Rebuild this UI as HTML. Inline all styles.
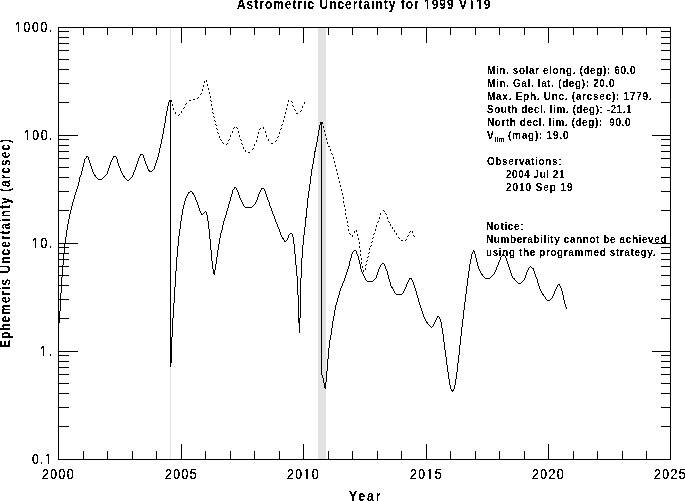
<!DOCTYPE html>
<html><head><meta charset="utf-8"><style>
html,body{margin:0;padding:0;background:#fff;overflow:hidden;}
svg{display:block;}
text{font-family:"Liberation Sans", sans-serif;fill:#000;}
</style></head><body>
<svg xmlns="http://www.w3.org/2000/svg" width="685" height="501" viewBox="0 0 685 501">
<rect x="0" y="0" width="685" height="501" fill="#fff"/>
<g shape-rendering="crispEdges">
<rect x="170" y="28" width="1" height="431" fill="#e2e2e2"/>
<rect x="318" y="28" width="8" height="431" fill="#e2e2e2"/>
<rect x="58" y="27" width="613" height="1" fill="#000"/>
<rect x="58" y="459" width="613" height="1" fill="#000"/>
<rect x="58" y="27" width="1" height="433" fill="#000"/>
<rect x="670" y="27" width="1" height="433" fill="#000"/>
<rect x="83" y="27" width="1" height="8" fill="#000"/>
<rect x="83" y="451" width="1" height="9" fill="#000"/>
<rect x="107" y="27" width="1" height="8" fill="#000"/>
<rect x="107" y="451" width="1" height="9" fill="#000"/>
<rect x="132" y="27" width="1" height="8" fill="#000"/>
<rect x="132" y="451" width="1" height="9" fill="#000"/>
<rect x="156" y="27" width="1" height="8" fill="#000"/>
<rect x="156" y="451" width="1" height="9" fill="#000"/>
<rect x="181" y="27" width="1" height="16" fill="#000"/>
<rect x="181" y="444" width="1" height="16" fill="#000"/>
<rect x="205" y="27" width="1" height="8" fill="#000"/>
<rect x="205" y="451" width="1" height="9" fill="#000"/>
<rect x="230" y="27" width="1" height="8" fill="#000"/>
<rect x="230" y="451" width="1" height="9" fill="#000"/>
<rect x="254" y="27" width="1" height="8" fill="#000"/>
<rect x="254" y="451" width="1" height="9" fill="#000"/>
<rect x="279" y="27" width="1" height="8" fill="#000"/>
<rect x="279" y="451" width="1" height="9" fill="#000"/>
<rect x="303" y="27" width="1" height="16" fill="#000"/>
<rect x="303" y="444" width="1" height="16" fill="#000"/>
<rect x="328" y="27" width="1" height="8" fill="#000"/>
<rect x="328" y="451" width="1" height="9" fill="#000"/>
<rect x="352" y="27" width="1" height="8" fill="#000"/>
<rect x="352" y="451" width="1" height="9" fill="#000"/>
<rect x="377" y="27" width="1" height="8" fill="#000"/>
<rect x="377" y="451" width="1" height="9" fill="#000"/>
<rect x="401" y="27" width="1" height="8" fill="#000"/>
<rect x="401" y="451" width="1" height="9" fill="#000"/>
<rect x="426" y="27" width="1" height="16" fill="#000"/>
<rect x="426" y="444" width="1" height="16" fill="#000"/>
<rect x="450" y="27" width="1" height="8" fill="#000"/>
<rect x="450" y="451" width="1" height="9" fill="#000"/>
<rect x="475" y="27" width="1" height="8" fill="#000"/>
<rect x="475" y="451" width="1" height="9" fill="#000"/>
<rect x="499" y="27" width="1" height="8" fill="#000"/>
<rect x="499" y="451" width="1" height="9" fill="#000"/>
<rect x="524" y="27" width="1" height="8" fill="#000"/>
<rect x="524" y="451" width="1" height="9" fill="#000"/>
<rect x="548" y="27" width="1" height="16" fill="#000"/>
<rect x="548" y="444" width="1" height="16" fill="#000"/>
<rect x="573" y="27" width="1" height="8" fill="#000"/>
<rect x="573" y="451" width="1" height="9" fill="#000"/>
<rect x="597" y="27" width="1" height="8" fill="#000"/>
<rect x="597" y="451" width="1" height="9" fill="#000"/>
<rect x="622" y="27" width="1" height="8" fill="#000"/>
<rect x="622" y="451" width="1" height="9" fill="#000"/>
<rect x="646" y="27" width="1" height="8" fill="#000"/>
<rect x="646" y="451" width="1" height="9" fill="#000"/>
<rect x="58" y="426" width="11" height="1" fill="#000"/>
<rect x="661" y="426" width="10" height="1" fill="#000"/>
<rect x="58" y="407" width="11" height="1" fill="#000"/>
<rect x="661" y="407" width="10" height="1" fill="#000"/>
<rect x="58" y="393" width="11" height="1" fill="#000"/>
<rect x="661" y="393" width="10" height="1" fill="#000"/>
<rect x="58" y="383" width="11" height="1" fill="#000"/>
<rect x="661" y="383" width="10" height="1" fill="#000"/>
<rect x="58" y="374" width="11" height="1" fill="#000"/>
<rect x="661" y="374" width="10" height="1" fill="#000"/>
<rect x="58" y="367" width="11" height="1" fill="#000"/>
<rect x="661" y="367" width="10" height="1" fill="#000"/>
<rect x="58" y="361" width="11" height="1" fill="#000"/>
<rect x="661" y="361" width="10" height="1" fill="#000"/>
<rect x="58" y="355" width="11" height="1" fill="#000"/>
<rect x="661" y="355" width="10" height="1" fill="#000"/>
<rect x="58" y="351" width="20" height="1" fill="#000"/>
<rect x="652" y="351" width="19" height="1" fill="#000"/>
<rect x="58" y="318" width="11" height="1" fill="#000"/>
<rect x="661" y="318" width="10" height="1" fill="#000"/>
<rect x="58" y="299" width="11" height="1" fill="#000"/>
<rect x="661" y="299" width="10" height="1" fill="#000"/>
<rect x="58" y="285" width="11" height="1" fill="#000"/>
<rect x="661" y="285" width="10" height="1" fill="#000"/>
<rect x="58" y="275" width="11" height="1" fill="#000"/>
<rect x="661" y="275" width="10" height="1" fill="#000"/>
<rect x="58" y="266" width="11" height="1" fill="#000"/>
<rect x="661" y="266" width="10" height="1" fill="#000"/>
<rect x="58" y="259" width="11" height="1" fill="#000"/>
<rect x="661" y="259" width="10" height="1" fill="#000"/>
<rect x="58" y="253" width="11" height="1" fill="#000"/>
<rect x="661" y="253" width="10" height="1" fill="#000"/>
<rect x="58" y="247" width="11" height="1" fill="#000"/>
<rect x="661" y="247" width="10" height="1" fill="#000"/>
<rect x="58" y="243" width="20" height="1" fill="#000"/>
<rect x="652" y="243" width="19" height="1" fill="#000"/>
<rect x="58" y="210" width="11" height="1" fill="#000"/>
<rect x="661" y="210" width="10" height="1" fill="#000"/>
<rect x="58" y="191" width="11" height="1" fill="#000"/>
<rect x="661" y="191" width="10" height="1" fill="#000"/>
<rect x="58" y="177" width="11" height="1" fill="#000"/>
<rect x="661" y="177" width="10" height="1" fill="#000"/>
<rect x="58" y="167" width="11" height="1" fill="#000"/>
<rect x="661" y="167" width="10" height="1" fill="#000"/>
<rect x="58" y="158" width="11" height="1" fill="#000"/>
<rect x="661" y="158" width="10" height="1" fill="#000"/>
<rect x="58" y="151" width="11" height="1" fill="#000"/>
<rect x="661" y="151" width="10" height="1" fill="#000"/>
<rect x="58" y="145" width="11" height="1" fill="#000"/>
<rect x="661" y="145" width="10" height="1" fill="#000"/>
<rect x="58" y="139" width="11" height="1" fill="#000"/>
<rect x="661" y="139" width="10" height="1" fill="#000"/>
<rect x="58" y="135" width="20" height="1" fill="#000"/>
<rect x="652" y="135" width="19" height="1" fill="#000"/>
<rect x="58" y="102" width="11" height="1" fill="#000"/>
<rect x="661" y="102" width="10" height="1" fill="#000"/>
<rect x="58" y="83" width="11" height="1" fill="#000"/>
<rect x="661" y="83" width="10" height="1" fill="#000"/>
<rect x="58" y="69" width="11" height="1" fill="#000"/>
<rect x="661" y="69" width="10" height="1" fill="#000"/>
<rect x="58" y="59" width="11" height="1" fill="#000"/>
<rect x="661" y="59" width="10" height="1" fill="#000"/>
<rect x="58" y="50" width="11" height="1" fill="#000"/>
<rect x="661" y="50" width="10" height="1" fill="#000"/>
<rect x="58" y="43" width="11" height="1" fill="#000"/>
<rect x="661" y="43" width="10" height="1" fill="#000"/>
<rect x="58" y="37" width="11" height="1" fill="#000"/>
<rect x="661" y="37" width="10" height="1" fill="#000"/>
<rect x="58" y="31" width="11" height="1" fill="#000"/>
<rect x="661" y="31" width="10" height="1" fill="#000"/>
<rect x="169" y="100" width="3" height="2" fill="#000"/>
<rect x="320" y="122" width="3" height="2" fill="#000"/>
</g>
<g shape-rendering="crispEdges">
<path d="M206 80h1v1h-1zM204 81h1v1h-1zM206 81h1v1h-1zM204 82h1v1h-1zM207 84h1v1h-1zM203 85h1v1h-1zM207 85h1v1h-1zM203 86h1v1h-1zM208 88h1v1h-1zM202 89h1v1h-1zM208 89h1v1h-1zM202 90h1v1h-1zM209 92h1v1h-1zM201 93h1v1h-1zM209 93h1v1h-1zM200 94h1v1h-1zM210 96h1v1h-1zM198 97h1v1h-1zM210 97h1v1h-1zM197 98h1v1h-1zM193 99h2v1h-2zM189 100h2v1h-2zM210 100h1v1h-1zM288 100h1v1h-1zM169 101h3v1h-3zM211 101h1v1h-1zM288 101h1v1h-1zM291 101h1v1h-1zM168 102h1v1h-1zM170 102h1v1h-1zM292 102h1v1h-1zM304 102h1v1h-1zM168 103h1v1h-1zM170 103h1v1h-1zM186 103h1v1h-1zM304 103h1v1h-1zM168 104h1v1h-1zM170 104h1v1h-1zM172 104h1v1h-1zM185 104h1v1h-1zM211 104h1v1h-1zM287 104h1v1h-1zM168 105h1v1h-1zM170 105h1v1h-1zM172 105h1v1h-1zM211 105h1v1h-1zM287 105h1v1h-1zM292 105h1v1h-1zM167 106h1v1h-1zM170 106h1v1h-1zM293 106h1v1h-1zM302 106h1v1h-1zM167 107h1v1h-1zM170 107h1v1h-1zM184 107h1v1h-1zM302 107h1v1h-1zM167 108h1v1h-1zM170 108h1v1h-1zM173 108h1v1h-1zM183 108h1v1h-1zM212 108h1v1h-1zM286 108h1v1h-1zM167 109h1v1h-1zM170 109h1v1h-1zM173 109h1v1h-1zM212 109h1v1h-1zM286 109h1v1h-1zM294 109h1v1h-1zM167 110h1v1h-1zM170 110h1v1h-1zM295 110h1v1h-1zM301 110h1v1h-1zM166 111h1v1h-1zM170 111h1v1h-1zM181 111h1v1h-1zM300 111h1v1h-1zM166 112h1v1h-1zM170 112h1v1h-1zM175 112h1v1h-1zM181 112h1v1h-1zM212 112h1v1h-1zM285 112h1v1h-1zM166 113h1v1h-1zM170 113h1v1h-1zM175 113h1v1h-1zM213 113h1v1h-1zM285 113h1v1h-1zM296 113h2v1h-2zM166 114h1v1h-1zM170 114h1v1h-1zM179 114h1v1h-1zM166 115h1v1h-1zM170 115h1v1h-1zM178 115h1v1h-1zM165 116h1v1h-1zM170 116h1v1h-1zM213 116h1v1h-1zM284 116h1v1h-1zM165 117h1v1h-1zM170 117h1v1h-1zM214 117h1v1h-1zM284 117h1v1h-1zM165 118h1v1h-1zM170 118h1v1h-1zM165 119h1v1h-1zM170 119h1v1h-1zM165 120h1v1h-1zM170 120h1v1h-1zM214 120h1v1h-1zM283 120h1v1h-1zM165 121h1v1h-1zM170 121h1v1h-1zM215 121h1v1h-1zM283 121h1v1h-1zM165 122h1v1h-1zM170 122h1v1h-1zM164 123h1v1h-1zM170 123h1v1h-1zM321 123h2v1h-2zM164 124h1v1h-1zM170 124h1v1h-1zM215 124h1v1h-1zM282 124h1v1h-1zM320 124h2v1h-2zM164 125h1v1h-1zM170 125h1v1h-1zM216 125h1v1h-1zM281 125h1v1h-1zM319 125h1v1h-1zM321 125h1v1h-1zM164 126h1v1h-1zM170 126h1v1h-1zM319 126h1v1h-1zM321 126h1v1h-1zM323 126h1v1h-1zM164 127h1v1h-1zM170 127h1v1h-1zM234 127h1v1h-1zM236 127h1v1h-1zM263 127h1v1h-1zM319 127h1v1h-1zM321 127h1v1h-1zM323 127h1v1h-1zM163 128h1v1h-1zM170 128h1v1h-1zM216 128h1v1h-1zM233 128h1v1h-1zM237 128h1v1h-1zM260 128h1v1h-1zM263 128h1v1h-1zM281 128h1v1h-1zM319 128h1v1h-1zM321 128h1v1h-1zM163 129h1v1h-1zM170 129h1v1h-1zM217 129h1v1h-1zM259 129h1v1h-1zM280 129h1v1h-1zM319 129h1v1h-1zM321 129h1v1h-1zM163 130h1v1h-1zM170 130h1v1h-1zM318 130h1v1h-1zM321 130h1v1h-1zM324 130h1v1h-1zM163 131h1v1h-1zM170 131h1v1h-1zM232 131h1v1h-1zM238 131h1v1h-1zM265 131h1v1h-1zM318 131h1v1h-1zM321 131h1v1h-1zM324 131h1v1h-1zM163 132h1v1h-1zM170 132h1v1h-1zM217 132h1v1h-1zM232 132h1v1h-1zM238 132h1v1h-1zM258 132h1v1h-1zM265 132h1v1h-1zM279 132h1v1h-1zM318 132h1v1h-1zM321 132h1v1h-1zM163 133h1v1h-1zM170 133h1v1h-1zM218 133h1v1h-1zM258 133h1v1h-1zM279 133h1v1h-1zM318 133h1v1h-1zM321 133h1v1h-1zM162 134h1v1h-1zM170 134h1v1h-1zM318 134h1v1h-1zM321 134h1v1h-1zM325 134h1v1h-1zM162 135h1v1h-1zM170 135h1v1h-1zM230 135h1v1h-1zM239 135h1v1h-1zM266 135h1v1h-1zM318 135h1v1h-1zM321 135h1v1h-1zM325 135h1v1h-1zM162 136h1v1h-1zM170 136h1v1h-1zM219 136h1v1h-1zM230 136h1v1h-1zM239 136h1v1h-1zM257 136h1v1h-1zM266 136h1v1h-1zM278 136h1v1h-1zM317 136h1v1h-1zM321 136h1v1h-1zM162 137h1v1h-1zM170 137h1v1h-1zM219 137h1v1h-1zM257 137h1v1h-1zM277 137h1v1h-1zM317 137h1v1h-1zM321 137h1v1h-1zM162 138h1v1h-1zM170 138h1v1h-1zM317 138h1v1h-1zM321 138h1v1h-1zM326 138h1v1h-1zM161 139h1v1h-1zM170 139h1v1h-1zM220 139h1v1h-1zM229 139h1v1h-1zM240 139h1v1h-1zM268 139h1v1h-1zM317 139h1v1h-1zM321 139h1v1h-1zM326 139h1v1h-1zM161 140h1v1h-1zM170 140h1v1h-1zM221 140h1v1h-1zM228 140h1v1h-1zM241 140h1v1h-1zM256 140h1v1h-1zM268 140h1v1h-1zM276 140h1v1h-1zM317 140h1v1h-1zM321 140h1v1h-1zM161 141h1v1h-1zM170 141h1v1h-1zM256 141h1v1h-1zM275 141h1v1h-1zM317 141h1v1h-1zM321 141h1v1h-1zM161 142h1v1h-1zM170 142h1v1h-1zM222 142h1v1h-1zM316 142h1v1h-1zM321 142h1v1h-1zM327 142h1v1h-1zM161 143h1v1h-1zM170 143h1v1h-1zM223 143h1v1h-1zM227 143h1v1h-1zM241 143h1v1h-1zM271 143h2v1h-2zM316 143h1v1h-1zM321 143h1v1h-1zM327 143h1v1h-1zM160 144h1v1h-1zM170 144h1v1h-1zM226 144h1v1h-1zM242 144h1v1h-1zM254 144h1v1h-1zM316 144h1v1h-1zM321 144h1v1h-1zM160 145h1v1h-1zM170 145h1v1h-1zM254 145h1v1h-1zM316 145h1v1h-1zM321 145h1v1h-1zM160 146h1v1h-1zM170 146h1v1h-1zM316 146h1v1h-1zM321 146h1v1h-1zM328 146h2v1h-2zM160 147h1v1h-1zM170 147h1v1h-1zM243 147h1v1h-1zM315 147h1v1h-1zM321 147h1v1h-1zM159 148h1v1h-1zM170 148h1v1h-1zM243 148h1v1h-1zM253 148h1v1h-1zM315 148h1v1h-1zM321 148h1v1h-1zM159 149h1v1h-1zM170 149h1v1h-1zM252 149h1v1h-1zM315 149h1v1h-1zM321 149h1v1h-1zM330 149h1v1h-1zM159 150h1v1h-1zM170 150h1v1h-1zM245 150h1v1h-1zM315 150h1v1h-1zM321 150h1v1h-1zM330 150h1v1h-1zM159 151h1v1h-1zM170 151h1v1h-1zM245 151h1v1h-1zM314 151h2v1h-2zM321 151h1v1h-1zM159 152h1v1h-1zM170 152h1v1h-1zM248 152h2v1h-2zM314 152h1v1h-1zM321 152h1v1h-1zM158 153h1v1h-1zM170 153h1v1h-1zM314 153h1v1h-1zM321 153h1v1h-1zM331 153h1v1h-1zM140 154h3v1h-3zM158 154h1v1h-1zM170 154h1v1h-1zM314 154h1v1h-1zM321 154h1v1h-1zM332 154h1v1h-1zM140 155h1v1h-1zM143 155h1v1h-1zM158 155h1v1h-1zM170 155h1v1h-1zM314 155h1v1h-1zM321 155h1v1h-1zM86 156h2v1h-2zM113 156h3v1h-3zM139 156h1v1h-1zM143 156h1v1h-1zM158 156h1v1h-1zM170 156h1v1h-1zM314 156h1v1h-1zM321 156h1v1h-1zM86 157h1v1h-1zM88 157h1v1h-1zM113 157h1v1h-1zM116 157h1v1h-1zM139 157h1v1h-1zM143 157h1v1h-1zM157 157h1v1h-1zM170 157h1v1h-1zM314 157h1v1h-1zM321 157h1v1h-1zM333 157h1v1h-1zM85 158h1v1h-1zM88 158h1v1h-1zM112 158h1v1h-1zM116 158h1v1h-1zM138 158h1v1h-1zM144 158h1v1h-1zM157 158h1v1h-1zM170 158h1v1h-1zM313 158h1v1h-1zM321 158h1v1h-1zM333 158h1v1h-1zM84 159h1v1h-1zM88 159h1v1h-1zM112 159h1v1h-1zM117 159h1v1h-1zM138 159h1v1h-1zM144 159h1v1h-1zM157 159h1v1h-1zM170 159h1v1h-1zM313 159h1v1h-1zM321 159h1v1h-1zM84 160h1v1h-1zM89 160h1v1h-1zM111 160h1v1h-1zM117 160h1v1h-1zM138 160h1v1h-1zM144 160h1v1h-1zM156 160h1v1h-1zM170 160h1v1h-1zM313 160h1v1h-1zM321 160h1v1h-1zM84 161h1v1h-1zM89 161h1v1h-1zM111 161h1v1h-1zM117 161h1v1h-1zM137 161h1v1h-1zM145 161h1v1h-1zM156 161h1v1h-1zM170 161h1v1h-1zM313 161h1v1h-1zM321 161h1v1h-1zM334 161h1v1h-1zM84 162h1v1h-1zM89 162h1v1h-1zM110 162h1v1h-1zM117 162h1v1h-1zM137 162h1v1h-1zM145 162h1v1h-1zM156 162h1v1h-1zM170 162h1v1h-1zM313 162h1v1h-1zM321 162h1v1h-1zM334 162h1v1h-1zM83 163h1v1h-1zM90 163h1v1h-1zM110 163h1v1h-1zM118 163h1v1h-1zM137 163h1v1h-1zM145 163h1v1h-1zM155 163h1v1h-1zM170 163h1v1h-1zM313 163h1v1h-1zM321 163h1v1h-1zM83 164h1v1h-1zM90 164h1v1h-1zM110 164h1v1h-1zM118 164h1v1h-1zM136 164h1v1h-1zM146 164h1v1h-1zM155 164h1v1h-1zM170 164h1v1h-1zM312 164h1v1h-1zM321 164h1v1h-1zM83 165h1v1h-1zM90 165h1v1h-1zM109 165h1v1h-1zM118 165h1v1h-1zM136 165h1v1h-1zM146 165h1v1h-1zM155 165h1v1h-1zM170 165h1v1h-1zM312 165h1v1h-1zM321 165h1v1h-1zM335 165h1v1h-1zM83 166h1v1h-1zM91 166h1v1h-1zM109 166h1v1h-1zM119 166h1v1h-1zM136 166h1v1h-1zM147 166h1v1h-1zM154 166h1v1h-1zM170 166h1v1h-1zM312 166h1v1h-1zM321 166h1v1h-1zM335 166h1v1h-1zM82 167h1v1h-1zM91 167h1v1h-1zM109 167h1v1h-1zM119 167h1v1h-1zM135 167h1v1h-1zM147 167h1v1h-1zM154 167h1v1h-1zM170 167h1v1h-1zM312 167h1v1h-1zM321 167h1v1h-1zM82 168h1v1h-1zM91 168h1v1h-1zM108 168h1v1h-1zM120 168h1v1h-1zM135 168h1v1h-1zM147 168h1v1h-1zM154 168h1v1h-1zM170 168h1v1h-1zM312 168h1v1h-1zM321 168h1v1h-1zM82 169h1v1h-1zM92 169h1v1h-1zM108 169h1v1h-1zM120 169h1v1h-1zM135 169h1v1h-1zM148 169h1v1h-1zM153 169h1v1h-1zM170 169h1v1h-1zM311 169h1v1h-1zM321 169h1v1h-1zM336 169h1v1h-1zM82 170h1v1h-1zM92 170h1v1h-1zM108 170h1v1h-1zM120 170h1v1h-1zM134 170h1v1h-1zM148 170h2v1h-2zM152 170h1v1h-1zM170 170h1v1h-1zM311 170h1v1h-1zM321 170h1v1h-1zM336 170h1v1h-1zM81 171h1v1h-1zM92 171h1v1h-1zM107 171h1v1h-1zM121 171h1v1h-1zM134 171h1v1h-1zM149 171h3v1h-3zM170 171h1v1h-1zM311 171h1v1h-1zM321 171h1v1h-1zM81 172h1v1h-1zM93 172h1v1h-1zM107 172h1v1h-1zM121 172h1v1h-1zM133 172h1v1h-1zM170 172h1v1h-1zM311 172h1v1h-1zM321 172h1v1h-1zM81 173h1v1h-1zM93 173h1v1h-1zM107 173h1v1h-1zM122 173h1v1h-1zM133 173h1v1h-1zM170 173h1v1h-1zM311 173h1v1h-1zM321 173h1v1h-1zM337 173h1v1h-1zM81 174h1v1h-1zM94 174h1v1h-1zM106 174h1v1h-1zM122 174h1v1h-1zM133 174h1v1h-1zM170 174h1v1h-1zM311 174h1v1h-1zM321 174h1v1h-1zM337 174h1v1h-1zM80 175h1v1h-1zM94 175h2v1h-2zM105 175h1v1h-1zM123 175h1v1h-1zM132 175h1v1h-1zM170 175h1v1h-1zM311 175h1v1h-1zM321 175h1v1h-1zM80 176h1v1h-1zM95 176h1v1h-1zM104 176h1v1h-1zM123 176h2v1h-2zM132 176h1v1h-1zM170 176h1v1h-1zM310 176h1v1h-1zM321 176h1v1h-1zM79 177h1v1h-1zM96 177h1v1h-1zM103 177h1v1h-1zM124 177h1v1h-1zM131 177h1v1h-1zM170 177h1v1h-1zM310 177h1v1h-1zM321 177h1v1h-1zM338 177h1v1h-1zM79 178h1v1h-1zM97 178h1v1h-1zM102 178h1v1h-1zM125 178h1v1h-1zM130 178h1v1h-1zM170 178h1v1h-1zM310 178h1v1h-1zM321 178h1v1h-1zM338 178h1v1h-1zM79 179h1v1h-1zM98 179h4v1h-4zM126 179h1v1h-1zM129 179h1v1h-1zM170 179h1v1h-1zM310 179h1v1h-1zM321 179h1v1h-1zM79 180h1v1h-1zM127 180h2v1h-2zM170 180h1v1h-1zM310 180h1v1h-1zM321 180h1v1h-1zM79 181h1v1h-1zM170 181h1v1h-1zM310 181h1v1h-1zM321 181h1v1h-1zM339 181h1v1h-1zM78 182h1v1h-1zM170 182h1v1h-1zM310 182h1v1h-1zM321 182h1v1h-1zM339 182h1v1h-1zM78 183h1v1h-1zM170 183h1v1h-1zM310 183h1v1h-1zM321 183h1v1h-1zM78 184h1v1h-1zM170 184h1v1h-1zM309 184h1v1h-1zM321 184h1v1h-1zM78 185h1v1h-1zM170 185h1v1h-1zM309 185h1v1h-1zM321 185h1v1h-1zM340 185h1v1h-1zM77 186h1v1h-1zM170 186h1v1h-1zM309 186h1v1h-1zM321 186h1v1h-1zM340 186h1v1h-1zM77 187h1v1h-1zM170 187h1v1h-1zM234 187h2v1h-2zM309 187h1v1h-1zM321 187h1v1h-1zM77 188h1v1h-1zM170 188h1v1h-1zM234 188h1v1h-1zM236 188h1v1h-1zM261 188h3v1h-3zM309 188h1v1h-1zM321 188h1v1h-1zM76 189h1v1h-1zM170 189h1v1h-1zM233 189h1v1h-1zM236 189h1v1h-1zM261 189h1v1h-1zM264 189h1v1h-1zM309 189h1v1h-1zM321 189h1v1h-1zM341 189h1v1h-1zM76 190h1v1h-1zM170 190h1v1h-1zM232 190h1v1h-1zM237 190h1v1h-1zM260 190h1v1h-1zM264 190h1v1h-1zM309 190h1v1h-1zM321 190h1v1h-1zM341 190h1v1h-1zM76 191h1v1h-1zM170 191h1v1h-1zM190 191h2v1h-2zM232 191h1v1h-1zM237 191h1v1h-1zM260 191h1v1h-1zM265 191h1v1h-1zM308 191h1v1h-1zM321 191h1v1h-1zM75 192h1v1h-1zM170 192h1v1h-1zM188 192h2v1h-2zM192 192h1v1h-1zM232 192h1v1h-1zM238 192h1v1h-1zM259 192h1v1h-1zM265 192h1v1h-1zM308 192h1v1h-1zM321 192h1v1h-1zM75 193h1v1h-1zM170 193h1v1h-1zM188 193h1v1h-1zM192 193h2v1h-2zM232 193h1v1h-1zM238 193h1v1h-1zM259 193h1v1h-1zM265 193h1v1h-1zM308 193h1v1h-1zM321 193h1v1h-1zM342 193h1v1h-1zM75 194h1v1h-1zM170 194h1v1h-1zM187 194h1v1h-1zM193 194h1v1h-1zM231 194h1v1h-1zM238 194h1v1h-1zM258 194h1v1h-1zM266 194h1v1h-1zM308 194h1v1h-1zM321 194h1v1h-1zM342 194h1v1h-1zM74 195h1v1h-1zM170 195h1v1h-1zM187 195h1v1h-1zM194 195h1v1h-1zM231 195h1v1h-1zM239 195h1v1h-1zM258 195h1v1h-1zM266 195h1v1h-1zM308 195h1v1h-1zM321 195h1v1h-1zM74 196h1v1h-1zM170 196h1v1h-1zM186 196h1v1h-1zM194 196h1v1h-1zM231 196h1v1h-1zM239 196h1v1h-1zM258 196h1v1h-1zM266 196h1v1h-1zM308 196h1v1h-1zM321 196h1v1h-1zM74 197h1v1h-1zM170 197h1v1h-1zM186 197h1v1h-1zM195 197h1v1h-1zM230 197h1v1h-1zM239 197h1v1h-1zM257 197h1v1h-1zM267 197h1v1h-1zM308 197h1v1h-1zM321 197h1v1h-1zM343 197h1v1h-1zM74 198h1v1h-1zM170 198h1v1h-1zM185 198h1v1h-1zM195 198h1v1h-1zM230 198h1v1h-1zM240 198h1v1h-1zM257 198h1v1h-1zM267 198h1v1h-1zM307 198h1v1h-1zM321 198h1v1h-1zM343 198h1v1h-1zM73 199h1v1h-1zM170 199h1v1h-1zM185 199h1v1h-1zM195 199h1v1h-1zM230 199h1v1h-1zM240 199h1v1h-1zM257 199h1v1h-1zM267 199h1v1h-1zM307 199h1v1h-1zM321 199h1v1h-1zM73 200h1v1h-1zM170 200h1v1h-1zM185 200h1v1h-1zM196 200h1v1h-1zM230 200h1v1h-1zM241 200h1v1h-1zM256 200h1v1h-1zM268 200h1v1h-1zM307 200h1v1h-1zM321 200h1v1h-1zM73 201h1v1h-1zM170 201h1v1h-1zM184 201h1v1h-1zM196 201h1v1h-1zM229 201h1v1h-1zM241 201h1v1h-1zM256 201h1v1h-1zM268 201h1v1h-1zM307 201h1v1h-1zM321 201h1v1h-1zM343 201h1v1h-1zM72 202h1v1h-1zM170 202h1v1h-1zM184 202h1v1h-1zM197 202h1v1h-1zM229 202h1v1h-1zM242 202h1v1h-1zM255 202h1v1h-1zM269 202h1v1h-1zM307 202h1v1h-1zM321 202h1v1h-1zM343 202h1v1h-1zM72 203h1v1h-1zM170 203h1v1h-1zM184 203h1v1h-1zM197 203h1v1h-1zM229 203h1v1h-1zM242 203h1v1h-1zM255 203h1v1h-1zM269 203h1v1h-1zM307 203h1v1h-1zM321 203h1v1h-1zM72 204h1v1h-1zM170 204h1v1h-1zM184 204h1v1h-1zM197 204h1v1h-1zM228 204h1v1h-1zM243 204h1v1h-1zM254 204h1v1h-1zM269 204h1v1h-1zM307 204h1v1h-1zM321 204h1v1h-1zM72 205h1v1h-1zM170 205h1v1h-1zM183 205h1v1h-1zM198 205h1v1h-1zM228 205h1v1h-1zM243 205h1v1h-1zM253 205h1v1h-1zM269 205h1v1h-1zM307 205h1v1h-1zM321 205h1v1h-1zM344 205h1v1h-1zM71 206h1v1h-1zM170 206h1v1h-1zM183 206h1v1h-1zM198 206h1v1h-1zM228 206h1v1h-1zM244 206h1v1h-1zM252 206h1v1h-1zM270 206h1v1h-1zM307 206h1v1h-1zM321 206h1v1h-1zM344 206h1v1h-1zM71 207h1v1h-1zM170 207h1v1h-1zM183 207h1v1h-1zM198 207h1v1h-1zM228 207h1v1h-1zM245 207h7v1h-7zM270 207h1v1h-1zM307 207h1v1h-1zM321 207h1v1h-1zM71 208h1v1h-1zM170 208h1v1h-1zM183 208h1v1h-1zM199 208h1v1h-1zM227 208h1v1h-1zM271 208h1v1h-1zM306 208h1v1h-1zM321 208h1v1h-1zM71 209h1v1h-1zM170 209h1v1h-1zM182 209h1v1h-1zM199 209h1v1h-1zM227 209h1v1h-1zM271 209h1v1h-1zM306 209h1v1h-1zM321 209h1v1h-1zM345 209h1v1h-1zM70 210h1v1h-1zM170 210h1v1h-1zM182 210h1v1h-1zM199 210h1v1h-1zM227 210h1v1h-1zM271 210h1v1h-1zM306 210h1v1h-1zM321 210h1v1h-1zM345 210h1v1h-1zM383 210h1v1h-1zM70 211h1v1h-1zM170 211h1v1h-1zM182 211h1v1h-1zM200 211h1v1h-1zM205 211h1v1h-1zM226 211h1v1h-1zM272 211h1v1h-1zM306 211h1v1h-1zM321 211h1v1h-1zM384 211h1v1h-1zM70 212h1v1h-1zM170 212h1v1h-1zM182 212h1v1h-1zM200 212h1v1h-1zM204 212h1v1h-1zM206 212h1v1h-1zM226 212h1v1h-1zM272 212h1v1h-1zM306 212h1v1h-1zM321 212h1v1h-1zM70 213h1v1h-1zM170 213h1v1h-1zM182 213h1v1h-1zM201 213h1v1h-1zM203 213h1v1h-1zM206 213h1v1h-1zM226 213h1v1h-1zM272 213h1v1h-1zM306 213h1v1h-1zM321 213h1v1h-1zM345 213h1v1h-1zM380 213h1v1h-1zM385 213h1v1h-1zM69 214h1v1h-1zM170 214h1v1h-1zM182 214h1v1h-1zM201 214h2v1h-2zM206 214h1v1h-1zM226 214h1v1h-1zM273 214h1v1h-1zM306 214h1v1h-1zM321 214h1v1h-1zM345 214h1v1h-1zM380 214h1v1h-1zM386 214h1v1h-1zM69 215h1v1h-1zM170 215h1v1h-1zM181 215h1v1h-1zM207 215h1v1h-1zM225 215h1v1h-1zM273 215h1v1h-1zM306 215h1v1h-1zM321 215h1v1h-1zM69 216h1v1h-1zM170 216h1v1h-1zM181 216h1v1h-1zM207 216h1v1h-1zM225 216h1v1h-1zM274 216h1v1h-1zM306 216h1v1h-1zM321 216h1v1h-1zM69 217h1v1h-1zM170 217h1v1h-1zM181 217h1v1h-1zM207 217h1v1h-1zM225 217h1v1h-1zM274 217h1v1h-1zM305 217h2v1h-2zM321 217h1v1h-1zM346 217h1v1h-1zM379 217h1v1h-1zM387 217h1v1h-1zM69 218h1v1h-1zM170 218h1v1h-1zM181 218h1v1h-1zM207 218h1v1h-1zM224 218h1v1h-1zM274 218h1v1h-1zM305 218h1v1h-1zM321 218h1v1h-1zM346 218h1v1h-1zM379 218h1v1h-1zM387 218h1v1h-1zM68 219h1v1h-1zM170 219h1v1h-1zM181 219h1v1h-1zM207 219h1v1h-1zM224 219h1v1h-1zM275 219h1v1h-1zM305 219h1v1h-1zM321 219h1v1h-1zM68 220h1v1h-1zM170 220h1v1h-1zM181 220h1v1h-1zM207 220h1v1h-1zM224 220h1v1h-1zM275 220h1v1h-1zM305 220h1v1h-1zM321 220h1v1h-1zM68 221h1v1h-1zM170 221h1v1h-1zM180 221h1v1h-1zM208 221h1v1h-1zM223 221h1v1h-1zM275 221h1v1h-1zM305 221h1v1h-1zM321 221h1v1h-1zM347 221h1v1h-1zM378 221h1v1h-1zM388 221h1v1h-1zM68 222h1v1h-1zM170 222h1v1h-1zM180 222h1v1h-1zM208 222h1v1h-1zM223 222h1v1h-1zM276 222h1v1h-1zM305 222h1v1h-1zM321 222h1v1h-1zM347 222h1v1h-1zM377 222h1v1h-1zM389 222h1v1h-1zM68 223h1v1h-1zM170 223h1v1h-1zM180 223h1v1h-1zM208 223h1v1h-1zM223 223h1v1h-1zM276 223h1v1h-1zM305 223h1v1h-1zM321 223h1v1h-1zM67 224h1v1h-1zM170 224h1v1h-1zM180 224h1v1h-1zM208 224h1v1h-1zM223 224h1v1h-1zM277 224h1v1h-1zM305 224h1v1h-1zM321 224h1v1h-1zM390 224h1v1h-1zM67 225h1v1h-1zM170 225h1v1h-1zM180 225h1v1h-1zM208 225h1v1h-1zM222 225h1v1h-1zM277 225h1v1h-1zM305 225h1v1h-1zM321 225h1v1h-1zM347 225h1v1h-1zM376 225h1v1h-1zM390 225h1v1h-1zM67 226h1v1h-1zM170 226h1v1h-1zM180 226h1v1h-1zM208 226h1v1h-1zM222 226h1v1h-1zM277 226h1v1h-1zM305 226h1v1h-1zM321 226h1v1h-1zM348 226h1v1h-1zM376 226h1v1h-1zM67 227h1v1h-1zM170 227h1v1h-1zM180 227h1v1h-1zM208 227h1v1h-1zM222 227h1v1h-1zM278 227h1v1h-1zM304 227h1v1h-1zM321 227h1v1h-1zM392 227h1v1h-1zM67 228h1v1h-1zM170 228h1v1h-1zM180 228h1v1h-1zM208 228h1v1h-1zM222 228h1v1h-1zM278 228h1v1h-1zM304 228h1v1h-1zM321 228h1v1h-1zM392 228h1v1h-1zM67 229h1v1h-1zM170 229h1v1h-1zM179 229h1v1h-1zM209 229h1v1h-1zM222 229h1v1h-1zM279 229h1v1h-1zM304 229h1v1h-1zM321 229h1v1h-1zM348 229h1v1h-1zM375 229h1v1h-1zM66 230h1v1h-1zM170 230h1v1h-1zM179 230h1v1h-1zM209 230h1v1h-1zM221 230h1v1h-1zM279 230h1v1h-1zM304 230h1v1h-1zM321 230h1v1h-1zM348 230h1v1h-1zM356 230h1v1h-1zM375 230h1v1h-1zM394 230h1v1h-1zM66 231h1v1h-1zM170 231h1v1h-1zM179 231h1v1h-1zM209 231h1v1h-1zM221 231h1v1h-1zM279 231h1v1h-1zM304 231h1v1h-1zM321 231h1v1h-1zM354 231h1v1h-1zM356 231h1v1h-1zM394 231h1v1h-1zM410 231h1v1h-1zM412 231h1v1h-1zM66 232h1v1h-1zM170 232h1v1h-1zM179 232h1v1h-1zM209 232h1v1h-1zM221 232h1v1h-1zM280 232h1v1h-1zM304 232h1v1h-1zM321 232h1v1h-1zM354 232h1v1h-1zM409 232h1v1h-1zM412 232h1v1h-1zM66 233h1v1h-1zM170 233h1v1h-1zM179 233h1v1h-1zM209 233h1v1h-1zM220 233h1v1h-1zM280 233h1v1h-1zM290 233h2v1h-2zM304 233h1v1h-1zM321 233h1v1h-1zM349 233h1v1h-1zM374 233h1v1h-1zM396 233h1v1h-1zM66 234h1v1h-1zM170 234h1v1h-1zM179 234h1v1h-1zM209 234h1v1h-1zM220 234h1v1h-1zM280 234h1v1h-1zM289 234h1v1h-1zM292 234h1v1h-1zM304 234h1v1h-1zM321 234h1v1h-1zM350 234h1v1h-1zM357 234h1v1h-1zM373 234h1v1h-1zM396 234h1v1h-1zM66 235h1v1h-1zM170 235h1v1h-1zM179 235h1v1h-1zM209 235h1v1h-1zM220 235h1v1h-1zM281 235h1v1h-1zM288 235h1v1h-1zM292 235h1v1h-1zM303 235h1v1h-1zM321 235h1v1h-1zM352 235h1v1h-1zM357 235h1v1h-1zM408 235h1v1h-1zM413 235h1v1h-1zM66 236h1v1h-1zM170 236h1v1h-1zM178 236h1v1h-1zM209 236h1v1h-1zM220 236h1v1h-1zM281 236h1v1h-1zM288 236h1v1h-1zM292 236h1v1h-1zM303 236h1v1h-1zM321 236h1v1h-1zM352 236h1v1h-1zM407 236h1v1h-1zM414 236h1v1h-1zM65 237h1v1h-1zM170 237h1v1h-1zM178 237h1v1h-1zM209 237h1v1h-1zM220 237h1v1h-1zM282 237h1v1h-1zM288 237h1v1h-1zM293 237h1v1h-1zM303 237h1v1h-1zM321 237h1v1h-1zM373 237h1v1h-1zM398 237h1v1h-1zM65 238h1v1h-1zM170 238h1v1h-1zM178 238h1v1h-1zM209 238h1v1h-1zM219 238h1v1h-1zM282 238h2v1h-2zM287 238h1v1h-1zM293 238h1v1h-1zM303 238h1v1h-1zM321 238h1v1h-1zM358 238h1v1h-1zM372 238h1v1h-1zM399 238h1v1h-1zM65 239h1v1h-1zM170 239h1v1h-1zM178 239h1v1h-1zM210 239h1v1h-1zM219 239h1v1h-1zM283 239h1v1h-1zM287 239h1v1h-1zM293 239h1v1h-1zM303 239h1v1h-1zM321 239h1v1h-1zM358 239h1v1h-1zM406 239h1v1h-1zM65 240h1v1h-1zM170 240h1v1h-1zM178 240h1v1h-1zM210 240h1v1h-1zM219 240h1v1h-1zM284 240h1v1h-1zM286 240h1v1h-1zM293 240h1v1h-1zM303 240h1v1h-1zM321 240h1v1h-1zM401 240h2v1h-2zM405 240h1v1h-1zM65 241h1v1h-1zM170 241h1v1h-1zM178 241h1v1h-1zM210 241h1v1h-1zM219 241h1v1h-1zM284 241h2v1h-2zM293 241h1v1h-1zM303 241h1v1h-1zM321 241h1v1h-1zM372 241h1v1h-1zM65 242h1v1h-1zM170 242h1v1h-1zM178 242h1v1h-1zM210 242h1v1h-1zM219 242h1v1h-1zM293 242h1v1h-1zM303 242h1v1h-1zM321 242h1v1h-1zM359 242h1v1h-1zM371 242h1v1h-1zM65 243h1v1h-1zM170 243h1v1h-1zM178 243h1v1h-1zM210 243h1v1h-1zM219 243h1v1h-1zM293 243h1v1h-1zM303 243h1v1h-1zM321 243h1v1h-1zM359 243h1v1h-1zM64 244h1v1h-1zM170 244h1v1h-1zM178 244h1v1h-1zM210 244h1v1h-1zM218 244h1v1h-1zM294 244h1v1h-1zM303 244h1v1h-1zM321 244h1v1h-1zM64 245h1v1h-1zM170 245h1v1h-1zM178 245h1v1h-1zM210 245h1v1h-1zM218 245h1v1h-1zM294 245h1v1h-1zM302 245h1v1h-1zM321 245h1v1h-1zM371 245h1v1h-1zM64 246h1v1h-1zM170 246h1v1h-1zM177 246h1v1h-1zM210 246h1v1h-1zM218 246h1v1h-1zM294 246h1v1h-1zM302 246h1v1h-1zM321 246h1v1h-1zM359 246h1v1h-1zM370 246h1v1h-1zM64 247h1v1h-1zM170 247h1v1h-1zM177 247h1v1h-1zM210 247h1v1h-1zM218 247h1v1h-1zM294 247h1v1h-1zM302 247h1v1h-1zM321 247h1v1h-1zM359 247h1v1h-1zM64 248h1v1h-1zM170 248h1v1h-1zM177 248h1v1h-1zM210 248h1v1h-1zM218 248h1v1h-1zM294 248h1v1h-1zM302 248h1v1h-1zM321 248h1v1h-1zM369 248h1v1h-1zM64 249h1v1h-1zM170 249h1v1h-1zM177 249h1v1h-1zM210 249h1v1h-1zM218 249h1v1h-1zM294 249h1v1h-1zM302 249h1v1h-1zM321 249h1v1h-1zM369 249h1v1h-1zM64 250h1v1h-1zM170 250h1v1h-1zM177 250h1v1h-1zM211 250h1v1h-1zM217 250h1v1h-1zM294 250h1v1h-1zM302 250h1v1h-1zM321 250h1v1h-1zM354 250h2v1h-2zM360 250h1v1h-1zM473 250h1v1h-1zM64 251h1v1h-1zM170 251h1v1h-1zM177 251h1v1h-1zM211 251h1v1h-1zM217 251h1v1h-1zM294 251h1v1h-1zM302 251h1v1h-1zM321 251h1v1h-1zM353 251h1v1h-1zM356 251h1v1h-1zM360 251h1v1h-1zM473 251h2v1h-2zM64 252h1v1h-1zM170 252h1v1h-1zM177 252h1v1h-1zM211 252h1v1h-1zM217 252h1v1h-1zM294 252h1v1h-1zM302 252h1v1h-1zM321 252h1v1h-1zM352 252h1v1h-1zM356 252h1v1h-1zM369 252h1v1h-1zM472 252h1v1h-1zM474 252h1v1h-1zM64 253h1v1h-1zM170 253h1v1h-1zM177 253h1v1h-1zM211 253h1v1h-1zM217 253h1v1h-1zM294 253h1v1h-1zM302 253h1v1h-1zM321 253h1v1h-1zM352 253h1v1h-1zM356 253h1v1h-1zM368 253h1v1h-1zM472 253h1v1h-1zM474 253h1v1h-1zM63 254h1v1h-1zM170 254h1v1h-1zM177 254h1v1h-1zM211 254h1v1h-1zM217 254h1v1h-1zM295 254h1v1h-1zM302 254h1v1h-1zM321 254h1v1h-1zM351 254h1v1h-1zM357 254h1v1h-1zM360 254h1v1h-1zM471 254h1v1h-1zM475 254h1v1h-1zM502 254h2v1h-2zM63 255h1v1h-1zM170 255h1v1h-1zM177 255h1v1h-1zM211 255h1v1h-1zM217 255h1v1h-1zM295 255h1v1h-1zM302 255h1v1h-1zM321 255h1v1h-1zM351 255h1v1h-1zM357 255h1v1h-1zM360 255h1v1h-1zM471 255h1v1h-1zM475 255h1v1h-1zM502 255h1v1h-1zM504 255h1v1h-1zM63 256h1v1h-1zM170 256h1v1h-1zM177 256h1v1h-1zM211 256h1v1h-1zM217 256h1v1h-1zM295 256h1v1h-1zM302 256h1v1h-1zM321 256h1v1h-1zM351 256h1v1h-1zM358 256h1v1h-1zM368 256h1v1h-1zM471 256h1v1h-1zM475 256h1v1h-1zM501 256h1v1h-1zM505 256h1v1h-1zM63 257h1v1h-1zM170 257h1v1h-1zM176 257h1v1h-1zM211 257h1v1h-1zM216 257h1v1h-1zM295 257h1v1h-1zM302 257h1v1h-1zM321 257h1v1h-1zM351 257h1v1h-1zM358 257h1v1h-1zM367 257h1v1h-1zM471 257h1v1h-1zM475 257h1v1h-1zM500 257h1v1h-1zM505 257h1v1h-1zM63 258h1v1h-1zM170 258h1v1h-1zM176 258h1v1h-1zM211 258h1v1h-1zM216 258h1v1h-1zM295 258h1v1h-1zM301 258h1v1h-1zM321 258h1v1h-1zM350 258h1v1h-1zM358 258h1v1h-1zM361 258h1v1h-1zM471 258h1v1h-1zM476 258h1v1h-1zM500 258h1v1h-1zM506 258h1v1h-1zM63 259h1v1h-1zM170 259h1v1h-1zM176 259h1v1h-1zM211 259h1v1h-1zM216 259h1v1h-1zM295 259h1v1h-1zM301 259h1v1h-1zM321 259h1v1h-1zM350 259h1v1h-1zM358 259h1v1h-1zM361 259h1v1h-1zM470 259h1v1h-1zM476 259h1v1h-1zM500 259h1v1h-1zM506 259h1v1h-1zM63 260h1v1h-1zM170 260h1v1h-1zM176 260h1v1h-1zM211 260h1v1h-1zM216 260h1v1h-1zM295 260h1v1h-1zM301 260h1v1h-1zM321 260h1v1h-1zM350 260h1v1h-1zM359 260h1v1h-1zM367 260h1v1h-1zM470 260h1v1h-1zM476 260h1v1h-1zM499 260h1v1h-1zM506 260h1v1h-1zM63 261h1v1h-1zM170 261h1v1h-1zM176 261h1v1h-1zM212 261h1v1h-1zM216 261h1v1h-1zM295 261h1v1h-1zM301 261h1v1h-1zM321 261h1v1h-1zM349 261h1v1h-1zM359 261h1v1h-1zM366 261h1v1h-1zM470 261h1v1h-1zM476 261h1v1h-1zM499 261h1v1h-1zM507 261h1v1h-1zM63 262h1v1h-1zM170 262h1v1h-1zM176 262h1v1h-1zM212 262h1v1h-1zM216 262h1v1h-1zM295 262h1v1h-1zM301 262h1v1h-1zM321 262h1v1h-1zM349 262h1v1h-1zM359 262h1v1h-1zM361 262h1v1h-1zM470 262h1v1h-1zM477 262h1v1h-1zM498 262h1v1h-1zM507 262h1v1h-1zM63 263h1v1h-1zM170 263h1v1h-1zM176 263h1v1h-1zM212 263h1v1h-1zM216 263h1v1h-1zM295 263h1v1h-1zM301 263h1v1h-1zM321 263h1v1h-1zM349 263h1v1h-1zM359 263h1v1h-1zM361 263h1v1h-1zM382 263h2v1h-2zM470 263h1v1h-1zM477 263h1v1h-1zM498 263h1v1h-1zM507 263h1v1h-1zM63 264h1v1h-1zM170 264h1v1h-1zM176 264h1v1h-1zM212 264h1v1h-1zM215 264h1v1h-1zM295 264h1v1h-1zM301 264h1v1h-1zM321 264h1v1h-1zM349 264h1v1h-1zM360 264h1v1h-1zM366 264h1v1h-1zM381 264h1v1h-1zM384 264h1v1h-1zM469 264h1v1h-1zM477 264h1v1h-1zM498 264h1v1h-1zM508 264h1v1h-1zM62 265h1v1h-1zM170 265h1v1h-1zM176 265h1v1h-1zM212 265h1v1h-1zM215 265h1v1h-1zM296 265h1v1h-1zM301 265h1v1h-1zM321 265h1v1h-1zM349 265h1v1h-1zM360 265h1v1h-1zM365 265h1v1h-1zM380 265h1v1h-1zM384 265h1v1h-1zM469 265h1v1h-1zM477 265h1v1h-1zM497 265h1v1h-1zM508 265h1v1h-1zM62 266h1v1h-1zM170 266h1v1h-1zM176 266h1v1h-1zM212 266h1v1h-1zM215 266h1v1h-1zM296 266h1v1h-1zM301 266h1v1h-1zM321 266h1v1h-1zM348 266h1v1h-1zM360 266h1v1h-1zM362 266h1v1h-1zM380 266h1v1h-1zM385 266h1v1h-1zM469 266h1v1h-1zM478 266h1v1h-1zM497 266h1v1h-1zM508 266h1v1h-1zM530 266h1v1h-1zM62 267h1v1h-1zM170 267h1v1h-1zM176 267h1v1h-1zM212 267h1v1h-1zM215 267h1v1h-1zM296 267h1v1h-1zM301 267h1v1h-1zM321 267h1v1h-1zM348 267h1v1h-1zM360 267h1v1h-1zM362 267h1v1h-1zM379 267h1v1h-1zM385 267h1v1h-1zM469 267h1v1h-1zM478 267h1v1h-1zM496 267h1v1h-1zM509 267h1v1h-1zM529 267h1v1h-1zM531 267h1v1h-1zM62 268h1v1h-1zM170 268h1v1h-1zM176 268h1v1h-1zM212 268h1v1h-1zM215 268h1v1h-1zM296 268h1v1h-1zM301 268h1v1h-1zM321 268h1v1h-1zM348 268h1v1h-1zM360 268h1v1h-1zM365 268h1v1h-1zM379 268h1v1h-1zM385 268h1v1h-1zM469 268h1v1h-1zM478 268h1v1h-1zM496 268h1v1h-1zM509 268h1v1h-1zM528 268h1v1h-1zM532 268h2v1h-2zM62 269h1v1h-1zM170 269h1v1h-1zM176 269h1v1h-1zM213 269h1v1h-1zM215 269h1v1h-1zM296 269h1v1h-1zM301 269h1v1h-1zM321 269h1v1h-1zM347 269h1v1h-1zM361 269h1v1h-1zM365 269h1v1h-1zM378 269h1v1h-1zM386 269h1v1h-1zM469 269h1v1h-1zM479 269h1v1h-1zM496 269h1v1h-1zM509 269h1v1h-1zM528 269h1v1h-1zM533 269h1v1h-1zM62 270h1v1h-1zM170 270h1v1h-1zM176 270h1v1h-1zM213 270h2v1h-2zM296 270h1v1h-1zM301 270h1v1h-1zM321 270h1v1h-1zM347 270h1v1h-1zM361 270h1v1h-1zM363 270h1v1h-1zM378 270h1v1h-1zM386 270h1v1h-1zM469 270h1v1h-1zM479 270h1v1h-1zM495 270h1v1h-1zM510 270h1v1h-1zM527 270h1v1h-1zM533 270h1v1h-1zM62 271h1v1h-1zM170 271h1v1h-1zM175 271h1v1h-1zM213 271h2v1h-2zM296 271h1v1h-1zM301 271h1v1h-1zM321 271h1v1h-1zM347 271h1v1h-1zM361 271h1v1h-1zM363 271h1v1h-1zM378 271h1v1h-1zM387 271h1v1h-1zM468 271h1v1h-1zM480 271h1v1h-1zM495 271h1v1h-1zM510 271h1v1h-1zM527 271h1v1h-1zM534 271h1v1h-1zM62 272h1v1h-1zM170 272h1v1h-1zM175 272h1v1h-1zM213 272h2v1h-2zM296 272h1v1h-1zM301 272h1v1h-1zM321 272h1v1h-1zM346 272h1v1h-1zM362 272h1v1h-1zM377 272h1v1h-1zM387 272h1v1h-1zM468 272h1v1h-1zM480 272h1v1h-1zM494 272h1v1h-1zM510 272h1v1h-1zM526 272h1v1h-1zM534 272h1v1h-1zM62 273h1v1h-1zM170 273h1v1h-1zM175 273h1v1h-1zM213 273h2v1h-2zM296 273h1v1h-1zM301 273h1v1h-1zM321 273h1v1h-1zM346 273h1v1h-1zM362 273h1v1h-1zM377 273h1v1h-1zM387 273h1v1h-1zM468 273h1v1h-1zM481 273h1v1h-1zM494 273h1v1h-1zM511 273h1v1h-1zM526 273h1v1h-1zM534 273h1v1h-1zM62 274h1v1h-1zM170 274h1v1h-1zM175 274h1v1h-1zM214 274h1v1h-1zM296 274h1v1h-1zM301 274h1v1h-1zM321 274h1v1h-1zM346 274h1v1h-1zM363 274h1v1h-1zM377 274h1v1h-1zM387 274h1v1h-1zM468 274h1v1h-1zM481 274h2v1h-2zM493 274h1v1h-1zM511 274h1v1h-1zM526 274h1v1h-1zM535 274h1v1h-1zM62 275h1v1h-1zM170 275h1v1h-1zM175 275h1v1h-1zM296 275h1v1h-1zM301 275h1v1h-1zM321 275h1v1h-1zM345 275h1v1h-1zM363 275h1v1h-1zM376 275h1v1h-1zM388 275h1v1h-1zM468 275h1v1h-1zM482 275h1v1h-1zM492 275h1v1h-1zM511 275h1v1h-1zM525 275h1v1h-1zM535 275h1v1h-1zM62 276h1v1h-1zM170 276h1v1h-1zM175 276h1v1h-1zM297 276h1v1h-1zM301 276h1v1h-1zM321 276h1v1h-1zM345 276h1v1h-1zM364 276h1v1h-1zM376 276h1v1h-1zM388 276h1v1h-1zM468 276h1v1h-1zM483 276h1v1h-1zM491 276h1v1h-1zM512 276h1v1h-1zM525 276h1v1h-1zM535 276h1v1h-1zM61 277h1v1h-1zM170 277h1v1h-1zM175 277h1v1h-1zM297 277h1v1h-1zM301 277h1v1h-1zM321 277h1v1h-1zM345 277h1v1h-1zM364 277h1v1h-1zM376 277h1v1h-1zM388 277h1v1h-1zM468 277h1v1h-1zM484 277h1v1h-1zM490 277h1v1h-1zM512 277h1v1h-1zM525 277h1v1h-1zM536 277h1v1h-1zM61 278h1v1h-1zM170 278h1v1h-1zM175 278h1v1h-1zM297 278h1v1h-1zM300 278h1v1h-1zM321 278h1v1h-1zM344 278h1v1h-1zM365 278h1v1h-1zM375 278h1v1h-1zM388 278h1v1h-1zM409 278h3v1h-3zM467 278h1v1h-1zM485 278h5v1h-5zM513 278h2v1h-2zM524 278h1v1h-1zM536 278h1v1h-1zM61 279h1v1h-1zM170 279h1v1h-1zM175 279h1v1h-1zM297 279h1v1h-1zM300 279h1v1h-1zM321 279h1v1h-1zM344 279h1v1h-1zM365 279h1v1h-1zM374 279h1v1h-1zM389 279h1v1h-1zM409 279h1v1h-1zM411 279h1v1h-1zM467 279h1v1h-1zM514 279h1v1h-1zM524 279h1v1h-1zM537 279h1v1h-1zM61 280h1v1h-1zM170 280h1v1h-1zM175 280h1v1h-1zM297 280h1v1h-1zM300 280h1v1h-1zM321 280h1v1h-1zM344 280h1v1h-1zM366 280h1v1h-1zM373 280h1v1h-1zM389 280h1v1h-1zM408 280h1v1h-1zM412 280h1v1h-1zM467 280h1v1h-1zM515 280h1v1h-1zM523 280h1v1h-1zM537 280h1v1h-1zM61 281h1v1h-1zM170 281h1v1h-1zM175 281h1v1h-1zM297 281h1v1h-1zM300 281h1v1h-1zM321 281h1v1h-1zM343 281h1v1h-1zM367 281h6v1h-6zM389 281h1v1h-1zM408 281h1v1h-1zM412 281h1v1h-1zM467 281h1v1h-1zM516 281h1v1h-1zM522 281h1v1h-1zM537 281h1v1h-1zM61 282h1v1h-1zM170 282h1v1h-1zM175 282h1v1h-1zM297 282h1v1h-1zM300 282h1v1h-1zM321 282h1v1h-1zM343 282h1v1h-1zM390 282h1v1h-1zM407 282h1v1h-1zM413 282h1v1h-1zM467 282h1v1h-1zM517 282h1v1h-1zM521 282h1v1h-1zM537 282h1v1h-1zM61 283h1v1h-1zM170 283h1v1h-1zM175 283h1v1h-1zM297 283h1v1h-1zM300 283h1v1h-1zM321 283h1v1h-1zM342 283h1v1h-1zM390 283h1v1h-1zM407 283h1v1h-1zM413 283h1v1h-1zM467 283h1v1h-1zM518 283h3v1h-3zM538 283h1v1h-1zM61 284h1v1h-1zM170 284h1v1h-1zM175 284h1v1h-1zM297 284h1v1h-1zM300 284h1v1h-1zM321 284h1v1h-1zM342 284h1v1h-1zM390 284h1v1h-1zM406 284h1v1h-1zM413 284h1v1h-1zM467 284h1v1h-1zM538 284h1v1h-1zM558 284h2v1h-2zM61 285h1v1h-1zM170 285h1v1h-1zM175 285h1v1h-1zM297 285h1v1h-1zM300 285h1v1h-1zM321 285h1v1h-1zM342 285h1v1h-1zM390 285h1v1h-1zM406 285h1v1h-1zM414 285h1v1h-1zM467 285h1v1h-1zM538 285h1v1h-1zM557 285h1v1h-1zM559 285h1v1h-1zM61 286h1v1h-1zM170 286h1v1h-1zM175 286h1v1h-1zM297 286h1v1h-1zM300 286h1v1h-1zM321 286h1v1h-1zM341 286h1v1h-1zM391 286h1v1h-1zM406 286h1v1h-1zM414 286h1v1h-1zM466 286h1v1h-1zM539 286h1v1h-1zM557 286h1v1h-1zM560 286h1v1h-1zM61 287h1v1h-1zM170 287h1v1h-1zM174 287h1v1h-1zM297 287h1v1h-1zM300 287h1v1h-1zM321 287h1v1h-1zM341 287h1v1h-1zM391 287h2v1h-2zM405 287h1v1h-1zM414 287h1v1h-1zM466 287h1v1h-1zM539 287h1v1h-1zM556 287h1v1h-1zM560 287h1v1h-1zM61 288h1v1h-1zM170 288h1v1h-1zM174 288h1v1h-1zM297 288h1v1h-1zM300 288h1v1h-1zM321 288h1v1h-1zM340 288h1v1h-1zM392 288h1v1h-1zM405 288h1v1h-1zM415 288h1v1h-1zM466 288h1v1h-1zM539 288h1v1h-1zM556 288h1v1h-1zM561 288h1v1h-1zM61 289h1v1h-1zM170 289h1v1h-1zM174 289h1v1h-1zM297 289h1v1h-1zM300 289h1v1h-1zM321 289h1v1h-1zM340 289h1v1h-1zM393 289h1v1h-1zM404 289h1v1h-1zM415 289h1v1h-1zM466 289h1v1h-1zM540 289h1v1h-1zM555 289h1v1h-1zM561 289h1v1h-1zM61 290h1v1h-1zM170 290h1v1h-1zM174 290h1v1h-1zM297 290h1v1h-1zM300 290h1v1h-1zM321 290h1v1h-1zM340 290h1v1h-1zM393 290h1v1h-1zM404 290h1v1h-1zM415 290h1v1h-1zM466 290h1v1h-1zM540 290h1v1h-1zM555 290h1v1h-1zM561 290h1v1h-1zM61 291h1v1h-1zM170 291h1v1h-1zM174 291h1v1h-1zM297 291h1v1h-1zM300 291h1v1h-1zM321 291h1v1h-1zM339 291h1v1h-1zM394 291h1v1h-1zM403 291h1v1h-1zM416 291h1v1h-1zM466 291h1v1h-1zM541 291h1v1h-1zM554 291h1v1h-1zM562 291h1v1h-1zM61 292h1v1h-1zM170 292h1v1h-1zM174 292h1v1h-1zM297 292h1v1h-1zM300 292h1v1h-1zM321 292h1v1h-1zM339 292h1v1h-1zM394 292h1v1h-1zM403 292h1v1h-1zM416 292h1v1h-1zM466 292h1v1h-1zM541 292h1v1h-1zM554 292h1v1h-1zM562 292h1v1h-1zM60 293h1v1h-1zM170 293h1v1h-1zM174 293h1v1h-1zM297 293h1v1h-1zM300 293h1v1h-1zM321 293h1v1h-1zM339 293h1v1h-1zM395 293h1v1h-1zM402 293h1v1h-1zM416 293h1v1h-1zM466 293h1v1h-1zM542 293h1v1h-1zM554 293h1v1h-1zM562 293h1v1h-1zM60 294h1v1h-1zM170 294h1v1h-1zM174 294h1v1h-1zM297 294h1v1h-1zM300 294h1v1h-1zM321 294h1v1h-1zM339 294h1v1h-1zM396 294h6v1h-6zM416 294h1v1h-1zM465 294h1v1h-1zM542 294h2v1h-2zM553 294h1v1h-1zM562 294h1v1h-1zM60 295h1v1h-1zM170 295h1v1h-1zM174 295h1v1h-1zM298 295h1v1h-1zM300 295h1v1h-1zM321 295h1v1h-1zM338 295h1v1h-1zM417 295h1v1h-1zM465 295h1v1h-1zM543 295h1v1h-1zM553 295h1v1h-1zM563 295h1v1h-1zM60 296h1v1h-1zM170 296h1v1h-1zM174 296h1v1h-1zM298 296h1v1h-1zM300 296h1v1h-1zM321 296h1v1h-1zM338 296h1v1h-1zM417 296h1v1h-1zM465 296h1v1h-1zM544 296h1v1h-1zM552 296h1v1h-1zM563 296h1v1h-1zM60 297h1v1h-1zM170 297h1v1h-1zM174 297h1v1h-1zM298 297h1v1h-1zM300 297h1v1h-1zM321 297h1v1h-1zM338 297h1v1h-1zM417 297h1v1h-1zM465 297h1v1h-1zM545 297h1v1h-1zM552 297h1v1h-1zM563 297h1v1h-1zM60 298h1v1h-1zM170 298h1v1h-1zM174 298h1v1h-1zM298 298h1v1h-1zM300 298h1v1h-1zM321 298h1v1h-1zM337 298h1v1h-1zM418 298h1v1h-1zM465 298h1v1h-1zM545 298h1v1h-1zM551 298h1v1h-1zM563 298h1v1h-1zM60 299h1v1h-1zM170 299h1v1h-1zM174 299h1v1h-1zM298 299h1v1h-1zM300 299h1v1h-1zM321 299h1v1h-1zM337 299h1v1h-1zM418 299h1v1h-1zM465 299h1v1h-1zM546 299h1v1h-1zM550 299h1v1h-1zM563 299h1v1h-1zM60 300h1v1h-1zM170 300h1v1h-1zM174 300h1v1h-1zM298 300h1v1h-1zM300 300h1v1h-1zM321 300h1v1h-1zM337 300h1v1h-1zM418 300h1v1h-1zM465 300h1v1h-1zM547 300h3v1h-3zM564 300h1v1h-1zM60 301h1v1h-1zM170 301h1v1h-1zM174 301h1v1h-1zM298 301h1v1h-1zM300 301h1v1h-1zM321 301h1v1h-1zM337 301h1v1h-1zM418 301h1v1h-1zM465 301h1v1h-1zM564 301h1v1h-1zM60 302h1v1h-1zM170 302h1v1h-1zM174 302h1v1h-1zM298 302h1v1h-1zM300 302h1v1h-1zM321 302h1v1h-1zM336 302h1v1h-1zM419 302h1v1h-1zM464 302h1v1h-1zM564 302h1v1h-1zM60 303h1v1h-1zM170 303h1v1h-1zM173 303h1v1h-1zM298 303h1v1h-1zM300 303h1v1h-1zM321 303h1v1h-1zM336 303h1v1h-1zM419 303h1v1h-1zM464 303h1v1h-1zM564 303h1v1h-1zM60 304h1v1h-1zM170 304h1v1h-1zM173 304h1v1h-1zM298 304h1v1h-1zM300 304h1v1h-1zM321 304h1v1h-1zM336 304h1v1h-1zM419 304h1v1h-1zM464 304h1v1h-1zM565 304h1v1h-1zM60 305h1v1h-1zM170 305h1v1h-1zM173 305h1v1h-1zM298 305h1v1h-1zM300 305h1v1h-1zM321 305h1v1h-1zM335 305h1v1h-1zM420 305h1v1h-1zM464 305h1v1h-1zM565 305h1v1h-1zM60 306h1v1h-1zM170 306h1v1h-1zM173 306h1v1h-1zM298 306h1v1h-1zM300 306h1v1h-1zM321 306h1v1h-1zM335 306h1v1h-1zM420 306h1v1h-1zM464 306h1v1h-1zM565 306h1v1h-1zM60 307h1v1h-1zM170 307h1v1h-1zM173 307h1v1h-1zM298 307h1v1h-1zM300 307h1v1h-1zM321 307h1v1h-1zM335 307h1v1h-1zM420 307h1v1h-1zM464 307h1v1h-1zM566 307h1v1h-1zM60 308h1v1h-1zM170 308h1v1h-1zM173 308h1v1h-1zM298 308h1v1h-1zM300 308h1v1h-1zM321 308h1v1h-1zM335 308h1v1h-1zM421 308h1v1h-1zM464 308h1v1h-1zM566 308h1v1h-1zM60 309h1v1h-1zM170 309h1v1h-1zM173 309h1v1h-1zM298 309h1v1h-1zM300 309h1v1h-1zM321 309h1v1h-1zM335 309h1v1h-1zM421 309h1v1h-1zM464 309h1v1h-1zM60 310h1v1h-1zM170 310h1v1h-1zM173 310h1v1h-1zM298 310h1v1h-1zM300 310h1v1h-1zM321 310h1v1h-1zM334 310h1v1h-1zM421 310h1v1h-1zM463 310h1v1h-1zM59 311h1v1h-1zM170 311h1v1h-1zM173 311h1v1h-1zM298 311h1v1h-1zM300 311h1v1h-1zM321 311h1v1h-1zM334 311h1v1h-1zM422 311h1v1h-1zM463 311h1v1h-1zM59 312h1v1h-1zM170 312h1v1h-1zM173 312h1v1h-1zM298 312h1v1h-1zM300 312h1v1h-1zM321 312h1v1h-1zM334 312h1v1h-1zM422 312h1v1h-1zM463 312h1v1h-1zM59 313h1v1h-1zM170 313h1v1h-1zM173 313h1v1h-1zM298 313h1v1h-1zM300 313h1v1h-1zM321 313h1v1h-1zM334 313h1v1h-1zM422 313h1v1h-1zM463 313h1v1h-1zM59 314h1v1h-1zM170 314h1v1h-1zM173 314h1v1h-1zM298 314h1v1h-1zM300 314h1v1h-1zM321 314h1v1h-1zM334 314h1v1h-1zM423 314h1v1h-1zM463 314h1v1h-1zM59 315h1v1h-1zM170 315h1v1h-1zM173 315h1v1h-1zM298 315h1v1h-1zM300 315h1v1h-1zM321 315h1v1h-1zM334 315h1v1h-1zM423 315h1v1h-1zM463 315h1v1h-1zM59 316h1v1h-1zM170 316h1v1h-1zM173 316h1v1h-1zM298 316h1v1h-1zM300 316h1v1h-1zM321 316h1v1h-1zM333 316h1v1h-1zM423 316h1v1h-1zM437 316h2v1h-2zM463 316h1v1h-1zM59 317h1v1h-1zM170 317h1v1h-1zM173 317h1v1h-1zM298 317h1v1h-1zM300 317h1v1h-1zM321 317h1v1h-1zM333 317h1v1h-1zM424 317h1v1h-1zM437 317h1v1h-1zM439 317h1v1h-1zM463 317h1v1h-1zM59 318h1v1h-1zM170 318h1v1h-1zM172 318h1v1h-1zM298 318h2v1h-2zM321 318h1v1h-1zM333 318h1v1h-1zM424 318h1v1h-1zM436 318h1v1h-1zM439 318h1v1h-1zM463 318h1v1h-1zM59 319h1v1h-1zM170 319h1v1h-1zM172 319h1v1h-1zM298 319h2v1h-2zM321 319h1v1h-1zM333 319h1v1h-1zM425 319h1v1h-1zM436 319h1v1h-1zM440 319h1v1h-1zM462 319h1v1h-1zM59 320h1v1h-1zM170 320h1v1h-1zM172 320h1v1h-1zM298 320h2v1h-2zM321 320h1v1h-1zM333 320h1v1h-1zM425 320h1v1h-1zM435 320h1v1h-1zM440 320h1v1h-1zM462 320h1v1h-1zM59 321h1v1h-1zM170 321h1v1h-1zM172 321h1v1h-1zM298 321h2v1h-2zM321 321h1v1h-1zM332 321h1v1h-1zM426 321h1v1h-1zM435 321h1v1h-1zM440 321h1v1h-1zM462 321h1v1h-1zM59 322h1v1h-1zM170 322h1v1h-1zM172 322h1v1h-1zM298 322h2v1h-2zM321 322h1v1h-1zM332 322h1v1h-1zM426 322h2v1h-2zM434 322h1v1h-1zM441 322h1v1h-1zM462 322h1v1h-1zM170 323h1v1h-1zM172 323h1v1h-1zM299 323h1v1h-1zM321 323h1v1h-1zM332 323h1v1h-1zM427 323h1v1h-1zM434 323h1v1h-1zM441 323h1v1h-1zM462 323h1v1h-1zM170 324h1v1h-1zM172 324h1v1h-1zM299 324h1v1h-1zM321 324h1v1h-1zM332 324h1v1h-1zM428 324h1v1h-1zM433 324h1v1h-1zM441 324h1v1h-1zM462 324h1v1h-1zM170 325h1v1h-1zM172 325h1v1h-1zM299 325h1v1h-1zM321 325h1v1h-1zM332 325h1v1h-1zM429 325h1v1h-1zM433 325h1v1h-1zM441 325h1v1h-1zM462 325h1v1h-1zM170 326h1v1h-1zM172 326h1v1h-1zM299 326h1v1h-1zM321 326h1v1h-1zM332 326h1v1h-1zM430 326h1v1h-1zM432 326h1v1h-1zM441 326h1v1h-1zM462 326h1v1h-1zM170 327h1v1h-1zM172 327h1v1h-1zM299 327h1v1h-1zM321 327h1v1h-1zM332 327h1v1h-1zM431 327h1v1h-1zM441 327h1v1h-1zM461 327h1v1h-1zM170 328h1v1h-1zM172 328h1v1h-1zM299 328h1v1h-1zM321 328h1v1h-1zM331 328h1v1h-1zM442 328h1v1h-1zM461 328h1v1h-1zM170 329h1v1h-1zM172 329h1v1h-1zM299 329h1v1h-1zM321 329h1v1h-1zM331 329h1v1h-1zM442 329h1v1h-1zM461 329h1v1h-1zM170 330h1v1h-1zM172 330h1v1h-1zM299 330h1v1h-1zM321 330h1v1h-1zM331 330h1v1h-1zM442 330h1v1h-1zM461 330h1v1h-1zM170 331h1v1h-1zM172 331h1v1h-1zM299 331h1v1h-1zM321 331h1v1h-1zM331 331h1v1h-1zM442 331h1v1h-1zM461 331h1v1h-1zM170 332h1v1h-1zM172 332h1v1h-1zM299 332h1v1h-1zM321 332h1v1h-1zM331 332h1v1h-1zM442 332h1v1h-1zM461 332h1v1h-1zM170 333h1v1h-1zM172 333h1v1h-1zM321 333h1v1h-1zM331 333h1v1h-1zM442 333h1v1h-1zM461 333h1v1h-1zM170 334h1v1h-1zM172 334h1v1h-1zM321 334h1v1h-1zM331 334h1v1h-1zM443 334h1v1h-1zM461 334h1v1h-1zM170 335h1v1h-1zM172 335h1v1h-1zM321 335h1v1h-1zM330 335h1v1h-1zM443 335h1v1h-1zM461 335h1v1h-1zM170 336h1v1h-1zM172 336h1v1h-1zM321 336h1v1h-1zM330 336h1v1h-1zM443 336h1v1h-1zM460 336h1v1h-1zM170 337h2v1h-2zM321 337h1v1h-1zM330 337h1v1h-1zM443 337h1v1h-1zM460 337h1v1h-1zM170 338h2v1h-2zM321 338h1v1h-1zM330 338h1v1h-1zM443 338h1v1h-1zM460 338h1v1h-1zM170 339h2v1h-2zM321 339h1v1h-1zM330 339h1v1h-1zM443 339h1v1h-1zM460 339h1v1h-1zM170 340h2v1h-2zM321 340h1v1h-1zM329 340h1v1h-1zM443 340h1v1h-1zM460 340h1v1h-1zM170 341h2v1h-2zM321 341h1v1h-1zM329 341h1v1h-1zM443 341h1v1h-1zM460 341h1v1h-1zM170 342h2v1h-2zM321 342h1v1h-1zM329 342h1v1h-1zM444 342h1v1h-1zM460 342h1v1h-1zM170 343h2v1h-2zM321 343h1v1h-1zM329 343h1v1h-1zM444 343h1v1h-1zM460 343h1v1h-1zM170 344h2v1h-2zM321 344h1v1h-1zM329 344h1v1h-1zM444 344h1v1h-1zM460 344h1v1h-1zM170 345h2v1h-2zM321 345h1v1h-1zM329 345h1v1h-1zM444 345h1v1h-1zM459 345h1v1h-1zM170 346h2v1h-2zM321 346h1v1h-1zM329 346h1v1h-1zM444 346h1v1h-1zM459 346h1v1h-1zM170 347h2v1h-2zM321 347h1v1h-1zM329 347h1v1h-1zM444 347h1v1h-1zM459 347h1v1h-1zM170 348h2v1h-2zM321 348h1v1h-1zM328 348h1v1h-1zM444 348h1v1h-1zM459 348h1v1h-1zM170 349h2v1h-2zM321 349h1v1h-1zM328 349h1v1h-1zM444 349h1v1h-1zM459 349h1v1h-1zM170 350h2v1h-2zM321 350h1v1h-1zM328 350h1v1h-1zM445 350h1v1h-1zM459 350h1v1h-1zM170 351h2v1h-2zM321 351h1v1h-1zM328 351h1v1h-1zM445 351h1v1h-1zM459 351h1v1h-1zM170 352h2v1h-2zM321 352h1v1h-1zM328 352h1v1h-1zM445 352h1v1h-1zM459 352h1v1h-1zM170 353h2v1h-2zM321 353h1v1h-1zM328 353h1v1h-1zM445 353h1v1h-1zM459 353h1v1h-1zM170 354h2v1h-2zM321 354h1v1h-1zM328 354h1v1h-1zM445 354h1v1h-1zM459 354h1v1h-1zM170 355h2v1h-2zM321 355h1v1h-1zM328 355h1v1h-1zM445 355h1v1h-1zM458 355h1v1h-1zM170 356h2v1h-2zM321 356h1v1h-1zM328 356h1v1h-1zM445 356h1v1h-1zM458 356h1v1h-1zM170 357h2v1h-2zM321 357h1v1h-1zM328 357h1v1h-1zM446 357h1v1h-1zM458 357h1v1h-1zM170 358h2v1h-2zM321 358h1v1h-1zM328 358h1v1h-1zM446 358h1v1h-1zM458 358h1v1h-1zM170 359h2v1h-2zM321 359h1v1h-1zM327 359h1v1h-1zM446 359h1v1h-1zM458 359h1v1h-1zM170 360h2v1h-2zM321 360h1v1h-1zM327 360h1v1h-1zM446 360h1v1h-1zM458 360h1v1h-1zM170 361h2v1h-2zM321 361h1v1h-1zM327 361h1v1h-1zM446 361h1v1h-1zM458 361h1v1h-1zM170 362h2v1h-2zM321 362h1v1h-1zM327 362h1v1h-1zM446 362h1v1h-1zM458 362h1v1h-1zM170 363h1v1h-1zM321 363h1v1h-1zM327 363h1v1h-1zM446 363h1v1h-1zM457 363h1v1h-1zM170 364h1v1h-1zM321 364h1v1h-1zM327 364h1v1h-1zM446 364h1v1h-1zM457 364h1v1h-1zM170 365h1v1h-1zM321 365h1v1h-1zM327 365h1v1h-1zM447 365h1v1h-1zM457 365h1v1h-1zM170 366h1v1h-1zM321 366h1v1h-1zM327 366h1v1h-1zM447 366h1v1h-1zM457 366h1v1h-1zM321 367h1v1h-1zM327 367h1v1h-1zM447 367h1v1h-1zM457 367h1v1h-1zM321 368h1v1h-1zM327 368h1v1h-1zM447 368h1v1h-1zM457 368h1v1h-1zM321 369h1v1h-1zM327 369h1v1h-1zM447 369h1v1h-1zM457 369h1v1h-1zM321 370h1v1h-1zM327 370h1v1h-1zM447 370h1v1h-1zM457 370h1v1h-1zM321 371h1v1h-1zM326 371h1v1h-1zM447 371h1v1h-1zM457 371h1v1h-1zM321 372h1v1h-1zM326 372h1v1h-1zM448 372h1v1h-1zM456 372h1v1h-1zM321 373h1v1h-1zM326 373h1v1h-1zM448 373h1v1h-1zM456 373h1v1h-1zM321 374h1v1h-1zM326 374h1v1h-1zM448 374h1v1h-1zM456 374h1v1h-1zM322 375h1v1h-1zM326 375h1v1h-1zM448 375h1v1h-1zM456 375h1v1h-1zM322 376h1v1h-1zM326 376h1v1h-1zM448 376h1v1h-1zM456 376h1v1h-1zM322 377h1v1h-1zM326 377h1v1h-1zM448 377h1v1h-1zM456 377h1v1h-1zM323 378h1v1h-1zM326 378h1v1h-1zM448 378h1v1h-1zM456 378h1v1h-1zM323 379h1v1h-1zM326 379h1v1h-1zM449 379h1v1h-1zM455 379h1v1h-1zM323 380h1v1h-1zM326 380h1v1h-1zM449 380h1v1h-1zM455 380h1v1h-1zM323 381h1v1h-1zM326 381h1v1h-1zM449 381h1v1h-1zM455 381h1v1h-1zM323 382h1v1h-1zM325 382h1v1h-1zM449 382h1v1h-1zM455 382h1v1h-1zM324 383h2v1h-2zM449 383h1v1h-1zM455 383h1v1h-1zM324 384h2v1h-2zM449 384h1v1h-1zM455 384h1v1h-1zM324 385h2v1h-2zM450 385h1v1h-1zM454 385h1v1h-1zM324 386h2v1h-2zM450 386h1v1h-1zM454 386h1v1h-1zM324 387h2v1h-2zM450 387h1v1h-1zM454 387h1v1h-1zM325 388h1v1h-1zM450 388h1v1h-1zM454 388h1v1h-1zM451 389h1v1h-1zM453 389h1v1h-1zM451 390h3v1h-3zM452 391h1v1h-1z" fill="#000"/>
</g>
<defs><filter id="c14" x="0" y="0" width="685" height="501" filterUnits="userSpaceOnUse"><feComponentTransfer><feFuncA type="discrete" tableValues="0 1 1"/></feComponentTransfer></filter><filter id="c10" x="0" y="0" width="685" height="501" filterUnits="userSpaceOnUse"><feComponentTransfer><feFuncA type="discrete" tableValues="0 0 0 0 0 0 0 0 0 1 1 1 1 1 1 1 1 1 1 1"/></feComponentTransfer></filter></defs>
<g filter="url(#c14)">
<text x="17.05" y="32" font-size="14" font-weight="normal" textLength="42.61" lengthAdjust="spacing" transform="scale(0.88,1)">1000.</text>
<text x="27.27" y="140" font-size="14" font-weight="normal" textLength="32.39" lengthAdjust="spacing" transform="scale(0.88,1)">100.</text>
<text x="36.36" y="248" font-size="14" font-weight="normal" textLength="23.30" lengthAdjust="spacing" transform="scale(0.88,1)">10.</text>
<text x="45.45" y="356" font-size="14" font-weight="normal" textLength="14.20" lengthAdjust="spacing" transform="scale(0.88,1)">1.</text>
<text x="36.36" y="464" font-size="14" font-weight="normal" textLength="22.16" lengthAdjust="spacing" transform="scale(0.88,1)">0.1</text>
<text x="47.73" y="479" font-size="14" font-weight="normal" textLength="35.80" lengthAdjust="spacing" transform="scale(0.88,1)">2000</text>
<text x="187.50" y="479" font-size="14" font-weight="normal" textLength="35.80" lengthAdjust="spacing" transform="scale(0.88,1)">2005</text>
<text x="326.14" y="479" font-size="14" font-weight="normal" textLength="35.80" lengthAdjust="spacing" transform="scale(0.88,1)">2010</text>
<text x="465.91" y="479" font-size="14" font-weight="normal" textLength="35.80" lengthAdjust="spacing" transform="scale(0.88,1)">2015</text>
<text x="604.55" y="479" font-size="14" font-weight="normal" textLength="35.80" lengthAdjust="spacing" transform="scale(0.88,1)">2020</text>
<text x="743.18" y="479" font-size="14" font-weight="normal" textLength="35.80" lengthAdjust="spacing" transform="scale(0.88,1)">2025</text>
</g>
<g filter="url(#c10)">
<text x="487.00" y="74" font-size="10" font-weight="bold" textLength="148.50" lengthAdjust="spacing">Min. solar elong. (deg): 60.0</text>
<text x="487.00" y="87" font-size="10" font-weight="bold" textLength="127.50" lengthAdjust="spacing">Min. Gal. lat. (deg): 20.0</text>
<text x="487.00" y="100" font-size="10" font-weight="bold" textLength="164.50" lengthAdjust="spacing">Max. Eph. Unc. (arcsec): 1779.</text>
<text x="487.00" y="113" font-size="10" font-weight="bold" textLength="144.50" lengthAdjust="spacing">South decl. lim. (deg): -21.1</text>
<text x="487.00" y="126" font-size="10" font-weight="bold" textLength="143.50" lengthAdjust="spacing">North decl. lim. (deg):  90.0</text>
<text x="487.00" y="139" font-size="10" font-weight="bold" textLength="-5.50" lengthAdjust="spacing">V</text>
<text x="495.00" y="142" font-size="7" font-weight="bold" textLength="9.50" lengthAdjust="spacing">lim</text>
<text x="508.00" y="139" font-size="10" font-weight="bold" textLength="60.50" lengthAdjust="spacing">(mag): 19.0</text>
<text x="487.00" y="165" font-size="10" font-weight="bold" textLength="74.50" lengthAdjust="spacing">Observations:</text>
<text x="506.00" y="178" font-size="10" font-weight="bold" textLength="58.50" lengthAdjust="spacing">2004 Jul 21</text>
<text x="506.00" y="191" font-size="10" font-weight="bold" textLength="66.50" lengthAdjust="spacing">2010 Sep 19</text>
<text x="486.00" y="230" font-size="10" font-weight="bold" textLength="37.50" lengthAdjust="spacing">Notice:</text>
<text x="486.00" y="243" font-size="10" font-weight="bold" textLength="180.50" lengthAdjust="spacing">Numberability cannot be achieved</text>
<text x="486.00" y="256" font-size="10" font-weight="bold" textLength="169.50" lengthAdjust="spacing">using the programmed strategy.</text>
<text x="278.82" y="9" font-size="14" font-weight="bold" textLength="298.24" lengthAdjust="spacing" transform="scale(0.85,1)">Astrometric Uncertainty for 1999 VT19</text>
<text x="410.59" y="501" font-size="14" font-weight="bold" textLength="37.06" lengthAdjust="spacing" transform="scale(0.85,1)">Year</text>
<text x="0" y="0" font-size="14" font-weight="bold" textLength="245.88" lengthAdjust="spacing" transform="translate(10,348.00) rotate(-90) scale(0.85,1)">Ephemeris Uncertainty (arcsec)</text>
</g>
<rect x="468" y="0" width="3" height="1" fill="#fff"/><rect x="472" y="0" width="3" height="1" fill="#fff"/>
<path fill="#fff" d="M425 7h1v1h-1zM426 7h1v1h-1zM428 7h1v1h-1zM429 7h1v1h-1zM425 8h1v1h-1zM426 8h1v1h-1zM428 8h1v1h-1zM429 8h1v1h-1zM477 7h1v1h-1zM478 7h1v1h-1zM481 7h1v1h-1zM477 8h1v1h-1zM478 8h1v1h-1zM481 8h1v1h-1zM482 8h1v1h-1zM16 31h1v1h-1zM17 31h1v1h-1zM19 31h1v1h-1zM20 31h1v1h-1zM25 139h1v1h-1zM26 139h1v1h-1zM28 139h1v1h-1zM29 139h1v1h-1zM33 247h1v1h-1zM34 247h1v1h-1zM36 247h1v1h-1zM37 247h1v1h-1zM41 355h1v1h-1zM42 355h1v1h-1zM44 355h1v1h-1zM45 355h1v1h-1zM46 463h1v1h-1zM47 463h1v1h-1zM49 463h1v1h-1zM50 463h1v1h-1zM304 478h1v1h-1zM305 478h1v1h-1zM308 478h1v1h-1zM309 478h1v1h-1zM427 478h1v1h-1zM428 478h1v1h-1zM431 478h1v1h-1zM432 478h1v1h-1z"/>
</svg>
</body></html>
